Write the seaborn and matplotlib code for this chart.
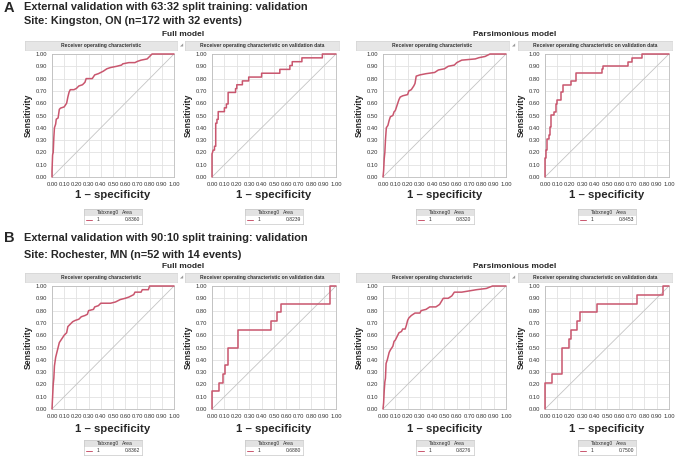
import numpy as np
import pandas as pd
import matplotlib
matplotlib.use("Agg")
from matplotlib import pyplot as plt
import seaborn as sns

# ROC curve vertices (1 - specificity, sensitivity)
a_full_train_fpr = [0, 0, 0.005, 0.01, 0.015, 0.02, 0.03, 0.035, 0.05, 0.06, 0.07, 0.1, 0.12, 0.13, 0.14, 0.15, 0.18, 0.2, 0.22, 0.25, 0.27, 0.28, 0.33, 0.35, 0.38, 0.4, 0.42, 0.45, 0.48, 0.53, 0.57, 0.58, 0.63, 0.68, 0.7, 0.73, 0.78, 0.8, 0.82, 1]
a_full_train_tpr = [0, 0.05, 0.18, 0.2, 0.32, 0.4, 0.43, 0.47, 0.48, 0.55, 0.56, 0.57, 0.6, 0.65, 0.69, 0.71, 0.71, 0.72, 0.74, 0.75, 0.77, 0.8, 0.8, 0.83, 0.84, 0.85, 0.86, 0.88, 0.89, 0.9, 0.91, 0.92, 0.93, 0.93, 0.94, 0.95, 0.96, 0.98, 1.0, 1.0]

a_full_valid_fpr = [0, 0, 0.01, 0.02, 0.02, 0.03, 0.03, 0.04, 0.04, 0.05, 0.05, 0.1, 0.1, 0.116, 0.116, 0.13, 0.13, 0.19, 0.19, 0.2, 0.2, 0.245, 0.245, 0.296, 0.296, 0.4, 0.4, 0.547, 0.547, 0.628, 0.628, 0.647, 0.647, 0.725, 0.725, 0.89, 0.89, 1]
a_full_valid_tpr = [0, 0.1875, 0.21875, 0.21875, 0.25, 0.25, 0.4375, 0.4375, 0.46875, 0.46875, 0.53125, 0.53125, 0.5625, 0.5625, 0.59375, 0.59375, 0.6875, 0.6875, 0.71875, 0.71875, 0.75, 0.75, 0.78125, 0.78125, 0.8125, 0.8125, 0.84375, 0.84375, 0.875, 0.875, 0.90625, 0.90625, 0.9375, 0.9375, 0.96875, 0.96875, 1.0, 1.0]

a_pars_train_fpr = [0, 0.005, 0.01, 0.015, 0.02, 0.027, 0.04, 0.05, 0.06, 0.08, 0.09, 0.1, 0.11, 0.12, 0.13, 0.14, 0.16, 0.2, 0.21, 0.23, 0.25, 0.26, 0.27, 0.3, 0.35, 0.42, 0.45, 0.5, 0.53, 0.58, 0.6, 0.64, 0.75, 0.78, 0.83, 0.87, 1]
a_pars_train_tpr = [0, 0.05, 0.15, 0.2, 0.3, 0.4, 0.42, 0.46, 0.49, 0.5, 0.53, 0.54, 0.57, 0.6, 0.63, 0.65, 0.66, 0.67, 0.7, 0.71, 0.74, 0.76, 0.82, 0.83, 0.84, 0.85, 0.87, 0.88, 0.9, 0.91, 0.93, 0.95, 0.96, 0.97, 0.98, 1.0, 1.0]

a_pars_valid_fpr = [0, 0, 0.008, 0.008, 0.016, 0.016, 0.03, 0.03, 0.04, 0.04, 0.05, 0.05, 0.075, 0.075, 0.085, 0.085, 0.097, 0.097, 0.13, 0.13, 0.146, 0.146, 0.21, 0.21, 0.246, 0.246, 0.46, 0.46, 0.47, 0.47, 0.67, 0.67, 0.70, 0.70, 0.78, 0.78, 1]
a_pars_valid_tpr = [0, 0.15625, 0.15625, 0.21875, 0.21875, 0.3125, 0.3125, 0.34375, 0.34375, 0.40625, 0.40625, 0.5, 0.5, 0.53125, 0.53125, 0.59375, 0.59375, 0.625, 0.625, 0.6875, 0.6875, 0.75, 0.75, 0.78125, 0.78125, 0.84375, 0.84375, 0.875, 0.875, 0.90625, 0.90625, 0.9375, 0.9375, 0.96875, 0.96875, 1.0, 1.0]

b_full_train_fpr = [0, 0.005, 0.01, 0.015, 0.02, 0.03, 0.04, 0.05, 0.06, 0.08, 0.1, 0.12, 0.13, 0.15, 0.17, 0.19, 0.22, 0.24, 0.27, 0.29, 0.3, 0.34, 0.35, 0.38, 0.4, 0.48, 0.52, 0.56, 0.6, 0.63, 0.67, 0.68, 0.73, 0.74, 0.79, 0.8, 1]
b_full_train_tpr = [0, 0.1, 0.2, 0.25, 0.35, 0.42, 0.46, 0.5, 0.54, 0.57, 0.6, 0.62, 0.67, 0.69, 0.71, 0.72, 0.73, 0.75, 0.76, 0.77, 0.8, 0.81, 0.83, 0.84, 0.86, 0.86, 0.87, 0.89, 0.9, 0.91, 0.93, 0.95, 0.95, 0.97, 0.97, 1.0, 1.0]

b_full_valid_fpr = [0, 0, 0.06, 0.06, 0.085, 0.085, 0.105, 0.105, 0.125, 0.125, 0.21, 0.21, 0.475, 0.475, 0.525, 0.525, 0.555, 0.555, 0.95, 0.95, 1]
b_full_valid_tpr = [0, 0.143, 0.143, 0.214, 0.214, 0.286, 0.286, 0.357, 0.357, 0.5, 0.5, 0.643, 0.643, 0.714, 0.714, 0.786, 0.786, 0.857, 0.857, 1.0, 1.0]

b_pars_train_fpr = [0, 0.005, 0.01, 0.015, 0.02, 0.025, 0.035, 0.05, 0.06, 0.08, 0.09, 0.1, 0.12, 0.13, 0.15, 0.16, 0.18, 0.19, 0.2, 0.21, 0.23, 0.26, 0.3, 0.31, 0.35, 0.38, 0.43, 0.46, 0.49, 0.53, 0.56, 0.58, 0.64, 0.7, 0.76, 0.84, 0.89, 1]
b_pars_train_tpr = [0, 0.05, 0.15, 0.22, 0.25, 0.37, 0.4, 0.46, 0.48, 0.51, 0.55, 0.56, 0.6, 0.62, 0.63, 0.65, 0.65, 0.68, 0.72, 0.74, 0.76, 0.78, 0.78, 0.8, 0.81, 0.83, 0.83, 0.85, 0.9, 0.9, 0.92, 0.95, 0.95, 0.96, 0.97, 0.98, 1.0, 1.0]

b_pars_valid_fpr = [0, 0, 0.055, 0.055, 0.14, 0.14, 0.19, 0.19, 0.21, 0.21, 0.26, 0.26, 0.285, 0.285, 0.42, 0.42, 0.74, 0.74, 0.95, 0.95, 1]
b_pars_valid_tpr = [0, 0.214, 0.214, 0.286, 0.286, 0.5, 0.5, 0.571, 0.571, 0.643, 0.643, 0.714, 0.714, 0.786, 0.786, 0.857, 0.857, 0.929, 0.929, 1.0, 1.0]

# Area values shown in the little legend tables
areas = ["0.8360", "0.8239", "0.8320", "0.8453", "0.8362", "0.6880", "0.8276", "0.7500"]

panel_letters = ["A", "B"]
title_lines = [
    ["External validation with 63:32 split training: validation", "Site: Kingston, ON (n=172 with 32 events)"],
    ["External validation with 90:10 split training: validation", "Site: Rochester, MN (n=52 with 14 events)"],
]
header_titles = ["Receiver operating characteristic", "Receiver operating characteristic on validation data"]
model_names = ["Full model", "Parsimonious model"]

curves = [
    (a_full_train_fpr, a_full_train_tpr), (a_full_valid_fpr, a_full_valid_tpr),
    (a_pars_train_fpr, a_pars_train_tpr), (a_pars_valid_fpr, a_pars_valid_tpr),
    (b_full_train_fpr, b_full_train_tpr), (b_full_valid_fpr, b_full_valid_tpr),
    (b_pars_train_fpr, b_pars_train_tpr), (b_pars_valid_fpr, b_pars_valid_tpr),
]

sns.set_style("white")
plt.rcParams['font.family'] = ['Liberation Sans', 'DejaVu Sans']

W, H = 676, 457
fig = plt.figure(figsize=(W / 100, H / 100), dpi=100)


def px_rect(x0, y0, x1, y1):
    """Turn a pixel box (top-left origin) into figure coords."""
    return [x0 / W, 1 - y1 / H, (x1 - x0) / W, (y1 - y0) / H]


def fx(x):
    return x / W


def fy(y):
    return 1 - y / H


red = "#c9566e"
cols = [(52, 174), (212, 336), (383, 506), (545, 669)]
rows = [(54, 177), (286, 409)]
header_rows = [(41, 50), (273, 282)]
legend_rows = [(209, 224), (440, 455)]
xlabel_y = [195.5, 428.5]
title_y = [(7.5, 21.5), (238, 255)]
model_y = [34, 266]
ticks = np.round(np.arange(0, 1.01, 0.1), 2)

for r in range(2):
    fig.text(fx(4), fy(title_y[r][0]), panel_letters[r], fontsize=10.5, fontweight="bold", va="center")
    fig.text(fx(24), fy(title_y[r][0]), title_lines[r][0], fontsize=7.9, fontweight="bold", va="center")
    fig.text(fx(24), fy(title_y[r][1]), title_lines[r][1], fontsize=7.9, fontweight="bold", va="center")
    fig.text(fx(183), fy(model_y[r]), model_names[0], fontsize=6, fontweight="bold", ha="center", va="center")
    fig.text(fx(515), fy(model_y[r]), model_names[1], fontsize=6, fontweight="bold", ha="center", va="center")

    for c in range(4):
        k = r * 4 + c
        x0, x1 = cols[c]
        y0, y1 = rows[r]
        fpr, tpr = curves[k]
        df = pd.DataFrame({"fpr": fpr, "tpr": tpr})

        ax = fig.add_axes(px_rect(x0, y0, x1, y1))
        ax.plot([0, 1], [0, 1], color="#c4c4c4", lw=0.6, zorder=1)
        sns.lineplot(data=df, x="fpr", y="tpr", ax=ax, color=red, lw=1.1,
                     estimator=None, sort=False, zorder=3)
        for line in ax.lines:
            line.set_clip_on(False)
        ax.set_xlim(0, 1)
        ax.set_ylim(0, 1)
        ax.set_xticks(ticks)
        ax.set_yticks(ticks)
        ax.set_xticks(np.arange(0.05, 1, 0.1), minor=True)
        ax.set_yticks(np.arange(0.05, 1, 0.1), minor=True)
        ax.set_xticklabels(["%.2f" % t for t in ticks])
        ax.set_yticklabels(["%.2f" % t for t in ticks])
        ax.tick_params(which="major", labelsize=4.2, labelcolor="#333333", length=2, width=0.5,
                       color="#aaaaaa", pad=1.5)
        ax.tick_params(which="minor", length=1, width=0.4, color="#aaaaaa")
        ax.grid(True, which="major", color="#e2e2e2", lw=0.6)
        for s in ax.spines.values():
            s.set_color("#bdbdbd")
            s.set_linewidth(0.6)
        ax.set_xlabel("")
        ax.set_ylabel("")

        fig.text(fx((x0 + x1) / 2), fy(xlabel_y[r]), "1 \u2013 specificity", fontsize=8.2,
                 fontweight="bold", ha="center", va="center")
        fig.text(fx(x0 - 24), fy((y0 + y1) / 2), "Sensitivity", fontsize=6.2,
                 fontweight="bold", ha="center", va="center", rotation=90)

        # grey header bar above each ROC plot
        hy0, hy1 = header_rows[r]
        hax = fig.add_axes(px_rect(x0 - 27, hy0, x1 + 3, hy1))
        hax.set_facecolor("#e6e6e6")
        hax.set_xticks([])
        hax.set_yticks([])
        for s in hax.spines.values():
            s.set_color("#d4d4d4")
            s.set_linewidth(0.5)
        hax.text(0.5, 0.5, header_titles[c % 2], fontsize=3.6, fontweight="bold",
                 ha="center", va="center", color="#333333", transform=hax.transAxes)
        if c % 2 == 0:
            fig.text(fx(x1 + 8), fy((hy0 + hy1) / 2), "\u25e2", fontsize=3, color="#999999",
                     ha="center", va="center")

        # small legend table
        ly0, ly1 = legend_rows[r]
        cx = (x0 + x1) / 2
        lax = fig.add_axes(px_rect(cx - 29, ly0, cx + 29, ly1))
        lax.set_xlim(0, 58)
        lax.set_ylim(15, 0)
        lax.set_xticks([])
        lax.set_yticks([])
        for s in lax.spines.values():
            s.set_color("#c8c8c8")
            s.set_linewidth(0.5)
        lax.axhspan(0, 7, color="#e2e2e2", lw=0)
        lax.text(13, 3.8, "Tabxneg0", fontsize=3.6, va="center", color="#333333")
        lax.text(49, 3.8, "Area", fontsize=3.6, va="center", ha="right", color="#333333")
        lax.plot([2, 8], [11, 11], color=red, lw=0.7)
        lax.text(13, 11, "1", fontsize=3.6, va="center", color="#333333")
        lax.text(56, 11, areas[k], fontsize=3.6, va="center", ha="right", color="#333333")

fig.savefig("out.png", dpi=100)
